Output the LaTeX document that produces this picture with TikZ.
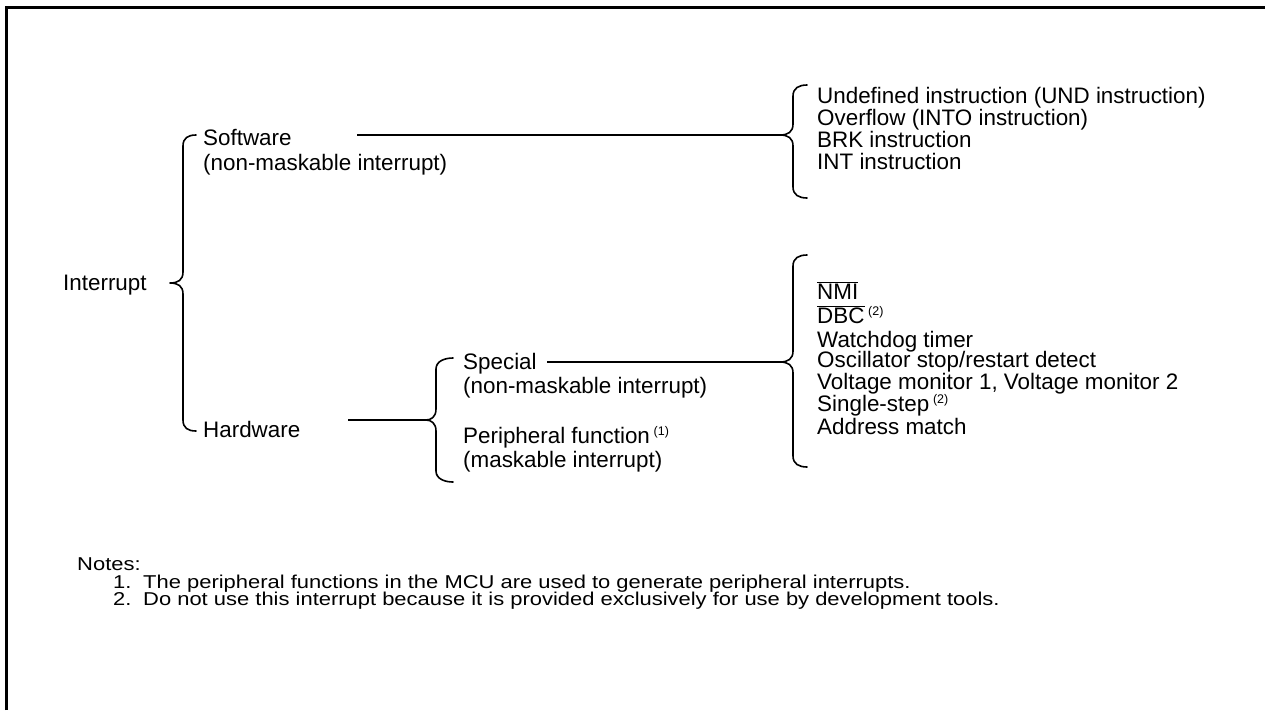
\documentclass[tikz,border=0pt]{standalone}
\usepackage{fontspec}
\setmainfont{Liberation Sans}
\newcommand{\supnote}[1]{\,{\fontsize{12.5}{12.5}\selectfont\raisebox{8pt}{(#1)}}}
\newcommand{\ovl}[1]{$\overline{\mbox{#1}}$}
\newcommand{\notetxt}[1]{\scalebox{1.18}[1]{\fontsize{18.6}{18.6}\selectfont #1}}
\begin{document}
\begin{tikzpicture}[x=1pt,y=-1pt,
  txt/.style={inner sep=0pt, anchor=base west, font=\fontsize{22.4}{22}\selectfont},
  bracepath/.style={line width=1.6pt, line cap=round, line join=round},
  conn/.style={line width=1.4pt},
  frameline/.style={line width=3pt}]
\useasboundingbox (0,0) rectangle (1265,710);
% frame
\draw[frameline] (6,710) -- (6,7) -- (1265,7);
% big brace
\coordinate (bb) at (170,283);
\draw[bracepath] (196,135) .. controls (188,135) and (183,138) .. (183,146)
   -- (183,272) .. controls (183,280) and (178,283) .. (bb)
   .. controls (178,283) and (183,286) .. (183,294)
   -- (183,420) .. controls (183,428) and (188,431) .. (196,431);
% brace right top
\coordinate (b1) at (780,135);
\draw[bracepath] (807,85) .. controls (799,85) and (793,88) .. (793,96)
   -- (793,124) .. controls (793,132) and (788,135) .. (b1)
   .. controls (788,135) and (793,138) .. (793,146)
   -- (793,187) .. controls (793,195) and (799,198) .. (807,198);
% brace hardware
\coordinate (b2) at (426,420);
\draw[bracepath] (453,358) .. controls (445,358) and (436,361) .. (436,369)
   -- (436,409) .. controls (436,417) and (431,420) .. (b2)
   .. controls (431,420) and (436,423) .. (436,431)
   -- (436,471) .. controls (436,479) and (445,482) .. (453,482);
% brace special
\coordinate (b3) at (780,362);
\draw[bracepath] (807,255) .. controls (799,255) and (793,258) .. (793,266)
   -- (793,351) .. controls (793,359) and (788,362) .. (b3)
   .. controls (788,362) and (793,365) .. (793,373)
   -- (793,456) .. controls (793,464) and (799,467) .. (807,467);

% texts
\node[txt] (interrupt) at (63,290) {Interrupt};
\node[txt] (sw) at (203,145) {Software};
\node[txt] (sw2) at (203,170) {(non-maskable interrupt)};
\node[txt] (hw) at (203,437) {Hardware};
\node[txt] (sp) at (463,369) {Special};
\node[txt] (sp2) at (463,393) {(non-maskable interrupt)};
\node[txt] (pf) at (463,443) {Peripheral function\supnote{1}};
\node[txt] (pf2) at (463,467) {(maskable interrupt)};

\node[txt] (i1) at (817,103) {Undefined instruction (UND instruction)};
\node[txt] (i2) at (817,125) {Overflow (INTO instruction)};
\node[txt] (i3) at (817,147) {BRK instruction};
\node[txt] (i4) at (817,169) {INT instruction};

\node[txt] (h1) at (817,299) {\ovl{NMI}};
\node[txt] (h2) at (817,323) {\ovl{DBC}\supnote{2}};
\node[txt] (h3) at (817,347) {Watchdog timer};
\node[txt] (h4) at (817,367) {Oscillator stop/restart detect};
\node[txt] (h5) at (817,389) {Voltage monitor 1, Voltage monitor 2};
\node[txt] (h6) at (817,411) {Single-step\supnote{2}};
\node[txt] (h7) at (817,434) {Address match};

% connectors
\coordinate (swl) at (357,135);
\draw[conn] (swl) -- (b1);
\coordinate (hwl) at (348,420);
\draw[conn] (hwl) -- (b2);
\coordinate (spl) at (547,362);
\draw[conn] (spl) -- (b3);

% notes
\node[txt] (notes) at (77,570) {\notetxt{Notes:}};
\node[txt] (n1num) at (113,588) {\notetxt{1.}};
\node[txt] (n1) at (143,588) {\notetxt{The peripheral functions in the MCU are used to generate peripheral interrupts.}};
\node[txt] (n2num) at (113,605) {\notetxt{2.}};
\node[txt] (n2) at (143,605) {\notetxt{Do not use this interrupt because it is provided exclusively for use by development tools.}};
\end{tikzpicture}
\end{document}
